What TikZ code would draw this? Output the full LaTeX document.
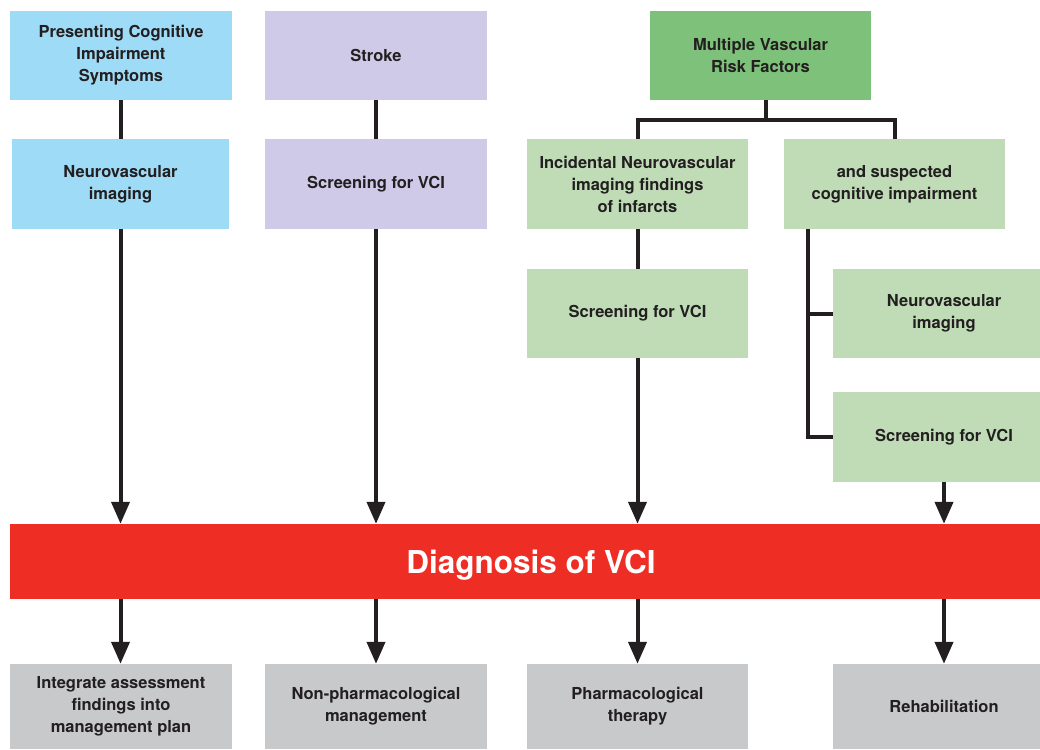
\documentclass[tikz,border=0pt]{standalone}
\usepackage{fontspec}
\setmainfont{TeX Gyre Heros}
\usepackage{xcolor}
\usepackage{tikz}
\usetikzlibrary{arrows.meta}

\definecolor{skyblue}{HTML}{9EDBF6}
\definecolor{lavender}{HTML}{CFCAE7}
\definecolor{riskgreen}{HTML}{7EC17A}
\definecolor{palegreen}{HTML}{BFDCB7}
\definecolor{outgray}{HTML}{C8C9CB}
\definecolor{diagred}{HTML}{EE2E24}
\definecolor{ink}{HTML}{231F20}

\begin{document}
\begin{tikzpicture}[x=1pt, y=-1pt,
    box/.style={minimum width=222pt, minimum height=89pt, align=center,
        inner sep=0pt, text=ink, font=\fontsize{16.5}{22}\selectfont\bfseries},
    link/.style={draw=ink, line width=4pt},
    flow/.style={link, -{Triangle[width=18pt, length=22pt]}}]
    \useasboundingbox (0,0) rectangle (1040,749);

    % starting points
    \node[box, fill=skyblue] (pres) at (121,55.5) {Presenting Cognitive\\Impairment\\Symptoms};
    \node[box, fill=lavender] (stroke) at (376,55.5) {Stroke};
    \node[box, fill=riskgreen, minimum width=221pt] (risk) at (760.5,55.5) {Multiple Vascular\\Risk Factors};

    % second row
    \node[box, fill=skyblue, minimum width=217pt, minimum height=90pt] (neuroA) at (120.5,184) {Neurovascular\\imaging};
    \node[box, fill=lavender, minimum height=90pt] (screenB) at (376,184) {Screening for VCI};
    \node[box, fill=palegreen, minimum width=221pt, minimum height=90pt] (incid) at (637.5,184) {Incidental Neurovascular\\imaging findings\\of infarcts};
    \node[box, fill=palegreen, minimum width=221pt, minimum height=90pt] (suspect) at (894.5,184) {and suspected\\cognitive impairment};

    % green branches
    \node[box, fill=palegreen, minimum width=221pt] (screenC) at (637.5,313.5) {Screening for VCI};
    \node[box, fill=palegreen] (neuroD) at (944,313.5) {Neurovascular\\imaging};
    \node[box, fill=palegreen, minimum height=90pt] (screenD) at (944,437) {Screening for VCI};

    % diagnosis bar
    \node[fill=diagred, minimum width=1042pt, minimum height=75pt, inner sep=0pt] (diag) at (531,561.5) {};
    \node[text=white, font=\fontsize{31.5}{36}\selectfont\bfseries] (diagtext) at (531,565) {Diagnosis of VCI};

    % outcomes
    \node[box, fill=outgray, minimum height=85pt] (integ) at (121,706.5) {Integrate assessment\\findings into\\management plan};
    \node[box, fill=outgray, minimum height=85pt] (nonpharm) at (376,706.5) {Non-pharmacological\\management};
    \node[box, fill=outgray, minimum width=221pt, minimum height=85pt] (pharm) at (637.5,706.5) {Pharmacological\\therapy};
    \node[box, fill=outgray, minimum height=85pt] (rehab) at (944,706.5) {Rehabilitation};

    % left two columns
    \draw[link] (pres.south -| neuroA) -- (neuroA.north);
    \draw[flow] (neuroA.south) -- (neuroA.south |- diag.north);
    \draw[link] (stroke.south) -- (screenB.north);
    \draw[flow] (screenB.south) -- (screenB.south |- diag.north);

    % risk factor tree
    \coordinate (fork) at (766,120);
    \draw[link] (fork |- risk.south) -- (fork);
    \draw[link] (incid.north) |- (fork) -| (suspect.north);
    \draw[link] (incid.south) -- (screenC.north);
    \draw[flow] (screenC.south) -- (screenC.south |- diag.north);
    \coordinate (stem) at (808,229);
    \draw[link] (stem) |- (neuroD.west);
    \draw[link] (stem) |- (screenD.west);
    \draw[flow] (screenD.south) -- (screenD.south |- diag.north);

    % to the outcomes
    \draw[flow] (diag.south -| neuroA) -- (integ.north -| neuroA);
    \draw[flow] (diag.south -| screenB) -- (nonpharm.north);
    \draw[flow] (diag.south -| screenC) -- (pharm.north);
    \draw[flow] (diag.south -| screenD) -- (rehab.north);
\end{tikzpicture}
\end{document}
